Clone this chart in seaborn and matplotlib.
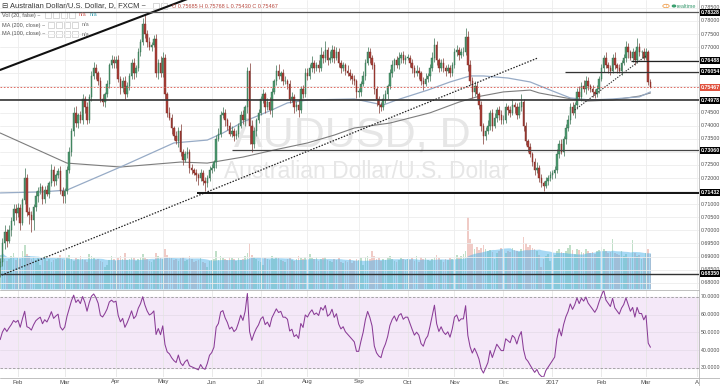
import numpy as np
import pandas as pd
import matplotlib
matplotlib.use("Agg")
import matplotlib.pyplot as plt
import seaborn as sns
from matplotlib.patches import Rectangle, Circle

sns.set_style("white")
plt.rcParams['font.family'] = ['Liberation Sans', 'DejaVu Sans']

# ---------------- data (AUDUSD daily, pips = price * 1e4) ----------------
first_open = 6860
close_pips = [
    # Jan 2016
    6880, 6950, 6995, 6960, 7000, 7035, 7080, 7065,
    # Feb
    7085, 7030, 7115, 7200, 7070, 7060, 7040, 7090, 7130, 7150, 7165, 7120, 7155, 7140, 7180, 7230, 7190, 7210, 7225, 7150, 7130,
    # Mar
    7150, 7230, 7300, 7380, 7450, 7410, 7440, 7420, 7500, 7470, 7420, 7510, 7590, 7620, 7600, 7570, 7500, 7490, 7520, 7560, 7630, 7650, 7640,
    # Apr
    7650, 7580, 7545, 7570, 7520, 7550, 7590, 7640, 7600, 7620, 7680, 7720, 7790, 7750, 7720, 7700, 7710, 7730, 7600, 7640, 7600,
    # May
    7660, 7520, 7450, 7430, 7390, 7360, 7340, 7380, 7300, 7270, 7290, 7300, 7240, 7230, 7220, 7210, 7200, 7220, 7190, 7180, 7200, 7230,
    # Jun
    7240, 7260, 7350, 7370, 7440, 7450, 7420, 7400, 7370, 7380, 7360, 7370, 7400, 7440, 7420, 7470, 7610, 7400, 7330, 7380, 7420, 7450,
    # Jul
    7500, 7520, 7470, 7490, 7460, 7530, 7570, 7610, 7590, 7600, 7570, 7570, 7560, 7500, 7510, 7470, 7480, 7460, 7540, 7520, 7600,
    # Aug
    7590, 7620, 7640, 7620, 7630, 7620, 7670, 7660, 7690, 7650, 7660, 7690, 7660, 7680, 7640, 7620, 7630, 7610, 7600, 7590, 7580, 7570, 7530,
    # Sep
    7530, 7560, 7590, 7640, 7680, 7660, 7630, 7540, 7500, 7480, 7470, 7500, 7520, 7550, 7600, 7630, 7650, 7630, 7660, 7670, 7650, 7660,
    # Oct
    7660, 7640, 7620, 7600, 7610, 7600, 7570, 7560, 7580, 7590, 7620, 7660, 7710, 7650, 7620, 7640, 7620, 7610, 7620, 7600, 7630,
    # Nov
    7680, 7690, 7670, 7680, 7680, 7740, 7630, 7570, 7530, 7550, 7520, 7480, 7400, 7360, 7380, 7400, 7450, 7400, 7430, 7460, 7440, 7420,
    # Dec
    7420, 7470, 7460, 7450, 7480, 7470, 7440, 7470, 7490, 7400, 7340, 7320, 7290, 7260, 7230, 7240, 7200, 7180, 7170, 7190, 7200, 7210,
    # Jan 2017
    7220, 7230, 7290, 7330, 7300, 7350, 7390, 7420, 7470, 7450, 7480, 7530, 7510, 7550, 7540, 7570, 7550, 7540, 7530, 7520, 7540, 7580,
    # Feb 2017
    7620, 7660, 7630, 7620, 7610, 7660, 7630, 7620, 7610, 7640, 7660, 7700, 7680, 7660, 7680, 7650, 7700, 7680, 7680, 7660,
    # Mar 2017
    7680, 7568.5, 7546.7,
]
wick_up = [
    15, 20, 25, 10, 20, 15, 20, 20,
    20, 15, 10, 40, 15, 20, 15, 10, 20, 15, 15, 10, 15, 20, 10, 25, 15, 10, 15, 20, 15,
    10, 15, 20, 10, 20, 25, 10, 15, 20, 15, 20, 10, 20, 25, 15, 10, 15, 20, 10, 15, 10, 20, 15,
    15, 20, 10, 15, 20, 15, 10, 15, 20, 10, 15, 10, 20, 33, 15, 20, 10, 15, 20, 15, 25,
    20, 15, 10, 20, 15, 10, 20, 15, 25, 10, 15, 20, 10, 15, 10, 15, 10, 15, 10, 15, 10, 15,
    15, 10, 15, 20, 15, 20, 15, 10, 15, 20, 10, 15, 10, 15, 20, 10, 15, 30, 20, 15, 10, 15,
    15, 20, 10, 15, 20, 15, 10, 20, 25, 10, 15, 20, 10, 15, 20, 10, 15, 20, 10, 15, 20,
    20, 15, 25, 10, 15, 20, 30, 15, 35, 10, 25, 20, 15, 20, 15, 10, 15, 10, 20, 15, 10, 15, 10,
    15, 10, 20, 15, 20, 15, 10, 15, 10, 15, 10, 20, 15, 10, 15, 20, 10, 15, 20, 10, 15, 10,
    15, 10, 15, 10, 20, 15, 10, 15, 20, 10, 15, 20, 25, 15, 10, 15, 20, 10, 15, 10, 15,
    15, 20, 10, 15, 20, 33, 20, 20, 15, 20, 15, 10, 15, 10, 15, 20, 10, 15, 20, 10, 15, 20,
    20, 15, 10, 15, 20, 10, 15, 20, 30, 10, 15, 10, 15, 10, 15, 20, 10, 15, 10, 15, 10, 15,
    10, 15, 20, 15, 20, 10, 15, 20, 15, 20, 10, 15, 20, 15, 25, 20, 15, 10, 15, 10, 15, 10,
    15, 10, 20, 15, 10, 15, 20, 10, 15, 10, 15, 25, 15, 10, 15, 10, 35, 15, 10, 15,
    15, 10, 8.3,
]
wick_dn = [
    40, 15, 20, 25, 10, 20, 15, 25,
    15, 30, 10, 15, 15, 35, 45, 40, 15, 20, 10, 20, 15, 10, 15, 10, 20, 15, 10, 10, 25,
    25, 10, 10, 15, 20, 15, 20, 10, 15, 20, 15, 10, 15, 10, 20, 15, 10, 15, 20, 10, 15, 10, 20,
    20, 15, 25, 15, 20, 10, 15, 10, 20, 15, 10, 15, 10, 15, 20, 10, 15, 10, 15, 20, 15,
    15, 20, 15, 10, 20, 15, 10, 20, 15, 20, 10, 15, 20, 15, 10, 20, 25, 10, 15, 30, 15, 10,
    10, 15, 20, 10, 15, 10, 20, 15, 10, 15, 20, 10, 15, 10, 15, 20, 20, 70, 30, 15, 20, 10,
    10, 15, 20, 10, 15, 25, 10, 15, 10, 20, 15, 10, 20, 15, 10, 20, 15, 25, 10, 15, 10,
    15, 10, 15, 20, 10, 15, 10, 20, 15, 20, 10, 15, 20, 10, 15, 20, 10, 15, 10, 15, 20, 15, 25,
    20, 15, 10, 15, 10, 20, 15, 20, 25, 30, 15, 10, 15, 20, 10, 15, 20, 10, 15, 20, 10, 15,
    10, 15, 20, 15, 10, 20, 15, 25, 10, 15, 20, 10, 15, 20, 15, 10, 15, 20, 10, 15, 10,
    10, 15, 20, 10, 15, 10, 20, 15, 25, 15, 20, 15, 20, 30, 15, 10, 15, 20, 10, 15, 20, 15,
    15, 10, 20, 15, 10, 20, 15, 10, 15, 20, 15, 20, 10, 15, 20, 10, 15, 15, 20, 10, 15, 10,
    15, 20, 10, 15, 10, 15, 20, 10, 15, 10, 20, 15, 10, 15, 10, 20, 15, 10, 20, 15, 10, 15,
    10, 15, 10, 20, 15, 10, 15, 20, 10, 15, 10, 15, 20, 10, 15, 20, 10, 15, 20, 10,
    10, 15, 3.7,
]
volume = [
    34, 38, 30, 28, 30, 33, 36, 29,
    31, 30, 38, 44, 35, 33, 30, 32, 29, 31, 24, 30, 33, 28, 30, 27, 29, 30, 31, 34, 30,
    29, 32, 34, 30, 28, 31, 30, 33, 30, 29, 27, 35, 33, 31, 29, 30, 28, 27, 22, 24, 29, 33, 30,
    28, 31, 33, 30, 36, 29, 30, 32, 31, 28, 30, 32, 35, 31, 30, 28, 27, 29, 36, 33, 31,
    30, 40, 34, 32, 31, 29, 30, 28, 31, 32, 28, 29, 33, 30, 27, 28, 29, 31, 27, 26, 22, 28,
    29, 30, 38, 29, 33, 31, 30, 29, 32, 31, 30, 28, 31, 29, 30, 33, 36, 46, 34, 32, 30, 28,
    27, 24, 31, 30, 29, 33, 30, 32, 31, 29, 28, 27, 30, 31, 29, 28, 30, 33, 31, 30, 32,
    29, 35, 31, 30, 32, 28, 30, 31, 32, 29, 28, 27, 30, 29, 31, 27, 26, 28, 27, 30, 26, 28, 30,
    29, 31, 24, 32, 33, 30, 38, 33, 30, 31, 28, 30, 29, 31, 33, 30, 28, 27, 29, 31, 30, 29,
    30, 29, 31, 28, 33, 27, 32, 30, 31, 29, 28, 30, 32, 34, 31, 29, 27, 30, 29, 31, 30,
    32, 34, 31, 33, 35, 38, 72, 50, 45, 40, 42, 39, 41, 44, 40, 38, 39, 37, 30, 36, 38, 41,
    40, 36, 38, 37, 41, 39, 38, 37, 40, 52, 46, 42, 44, 41, 40, 38, 34, 22, 30, 33, 35, 28,
    20, 34, 38, 40, 37, 36, 38, 41, 44, 39, 35, 40, 39, 37, 36, 40, 38, 36, 37, 35, 38, 39,
    42, 40, 38, 36, 37, 50, 36, 35, 34, 38, 33, 35, 32, 31, 49, 36, 33, 34, 30, 32,
    36, 40, 35,
]
# moving averages (bar index, price)
ma200_idx = [0, 30, 54, 81, 93, 109, 123, 138, 150, 159, 175, 193, 206, 214, 226, 238, 242, 254, 263, 275, 287, 292]
ma200 = [0.7372, 0.7257, 0.7242, 0.7261, 0.7257, 0.7280, 0.7307, 0.7334, 0.7364, 0.7391, 0.7410, 0.7449,
         0.7490, 0.7510, 0.7529, 0.7536, 0.7525, 0.7506, 0.7494, 0.7498, 0.7513, 0.7525]
ma100_idx = [0, 19, 30, 54, 78, 93, 100, 109, 122, 129, 138, 159, 172, 178, 192, 202, 211, 217, 228, 238,
             247, 256, 265, 275, 287, 292]
ma100 = [0.7143, 0.7147, 0.7154, 0.7242, 0.7334, 0.7345, 0.7372, 0.7414, 0.7460, 0.7487, 0.7498, 0.7502,
         0.7479, 0.7498, 0.7536, 0.7567, 0.7590, 0.7590, 0.7582, 0.7567, 0.7536, 0.7506, 0.7498, 0.7502,
         0.7510, 0.7529]
# drawn levels (price, start bar or None for full width)
levels = [(0.78328, None), (0.76488, 283.3), (0.76054, 253.6), (0.74978, None),
          (0.73060, 104.0), (0.71432, 88.4), (0.68350, None)]
last_price = 0.75467
tick_prices = [0.785, 0.780, 0.775, 0.770, 0.745, 0.740, 0.735, 0.725, 0.720,
               0.710, 0.705, 0.700, 0.695, 0.690, 0.685, 0.680]
rsi_ticks = [70, 60, 50, 40, 30]

# ---------------- derived ----------------
close = np.array(close_pips, dtype=float) / 1e4
open_ = np.r_[first_open, close_pips[:-1]].astype(float) / 1e4
high = np.maximum(open_, close) + np.array(wick_up) / 1e4
low = np.minimum(open_, close) - np.array(wick_dn) / 1e4
n = len(close)
idx = np.arange(n)
up = close >= open_

ext_dates = pd.bdate_range("2016-01-20", "2017-04-10")
months = pd.Series(ext_dates).dt.to_period("M")
first_of_month = [i for i in range(1, len(ext_dates)) if months[i] != months[i - 1]]
month_labels = []
for i in first_of_month:
    d = ext_dates[i]
    if d.month == 1:
        month_labels.append(str(d.year))
    elif d.year == 2017 and d.month == 4:
        month_labels.append("A")
    else:
        month_labels.append(d.strftime("%b"))

# RSI(14), Wilder smoothing
delta = np.diff(close)
ag, al = 0.0035, 0.0040
rsi = [46.0]
for dlt in delta:
    ag = (ag * 13 + max(dlt, 0)) / 14
    al = (al * 13 + max(-dlt, 0)) / 14
    rsi.append(100 - 100 / (1 + ag / al))
rsi = np.array(rsi)
vol_ma = pd.Series(volume, dtype=float).rolling(20, min_periods=1).mean().values

# ---------------- figure ----------------
W, H = 720, 386
fig = plt.figure(figsize=(7.2, 3.86), dpi=100)
fig.patch.set_facecolor("white")
PR = 699  # right edge of plotting area (px)
ax = fig.add_axes([0, (H - 289) / H, PR / W, 289 / H])
vax = ax.twinx()
RB = 377  # bottom of RSI pane (px)
rax = fig.add_axes([0, (H - RB) / H, PR / W, (RB - 290) / H])

XMIN, XMAX = -0.08, 313.8
YMIN, YMAX = 0.67759, 0.78802

# volume pane (behind)
vax.set_ylim(0, 289)
vcol = np.where(up, "#b9dcc2", "#efc6c0")
vax.bar(idx, volume, width=0.75, color=vcol, alpha=0.9, linewidth=0, zorder=1)
vax.fill_between(idx, 0, vol_ma, color="#4fb3ea", alpha=0.5, linewidth=0, zorder=2)
vax.set_yticks([])
for s in vax.spines.values():
    s.set_visible(False)
ax.set_zorder(vax.get_zorder() + 1)
ax.patch.set_visible(False)

# grid
for p in np.arange(0.680, 0.7851, 0.005):
    ax.axhline(p, color="#ededed", lw=0.6, zorder=0)
for i in first_of_month:
    ax.axvline(i, color="#ededed", lw=0.6, zorder=0)
    rax.axvline(i, color="#e6e6e6", lw=0.6, zorder=1)

# watermark
ax.text(352 / W, 1 - 147 / H, "AUDUSD, D", transform=fig.transFigure, ha="center", va="baseline",
        fontsize=31, color="#e6e6e6", zorder=0.5)
ax.text(366 / W, 1 - 178 / H, "Australian Dollar/U.S. Dollar", transform=fig.transFigure, ha="center",
        va="baseline", fontsize=16.5, color="#e6e6e6", zorder=0.5)

# moving averages
sns.lineplot(x=ma200_idx, y=ma200, ax=ax, color="#7d7d7d", lw=0.8, zorder=3)
sns.lineplot(x=ma100_idx, y=ma100, ax=ax, color="#97abc6", lw=0.9, zorder=3)

# candles
wick_c = np.where(up, "#4d7d62", "#8a4a44")
ax.vlines(idx, low, high, colors=wick_c, lw=0.55, zorder=4)
body_c = np.where(up, "#4e9a70", "#aa3f37")
edge_c = np.where(up, "#2f6a4b", "#7a2a24")
ax.bar(idx, np.maximum(np.abs(close - open_), 0.00012), bottom=np.minimum(open_, close), width=0.66,
       color=body_c, edgecolor=edge_c, linewidth=0.3, zorder=5)

# drawings
ax.plot([0, 90], [0.7613, 0.79032], color="#111111", lw=1.5, zorder=6)
ax.plot([0.7, 241.5], [0.6829, 0.7659], color="#222222", lw=0.9, ls=(0, (1.2, 1.2)), zorder=6)
ax.plot([258.0, 290.5], [0.7460, 0.7670], color="#333333", lw=0.8, ls=(0, (1.2, 1.2)), zorder=6)
lvl_style = {0.78328: ("#555555", 0.9), 0.76488: ("#222222", 0.9), 0.76054: ("#333333", 0.9),
             0.74978: ("#333333", 1.2), 0.73060: ("#444444", 0.9), 0.71432: ("#111111", 1.4),
             0.68350: ("#333333", 1.0)}
for price, start in levels:
    c, lw = lvl_style[price]
    ax.hlines(price, XMIN if start is None else start, XMAX, color=c, lw=lw, zorder=6)
ax.axhline(last_price, color="#d9554a", lw=0.6, ls=(0, (2, 2)), zorder=6)

ax.set_xlim(XMIN, XMAX)
ax.set_ylim(YMIN, YMAX)
vax.set_xlim(XMIN, XMAX)
ax.set_xticks([])
ax.set_yticks([])
for s in ax.spines.values():
    s.set_visible(False)

# right price scale
LX = 1.0025
FS = 3.8
ytr = ax.get_yaxis_transform()
for p in tick_prices:
    ax.text(LX, p, f"{p:.5f}", transform=ytr, fontsize=FS, color="#4a4a4a", va="center",
            ha="left", clip_on=False)
for price, _ in levels:
    ax.text(LX, price, f"{price:.5f}", transform=ytr, fontsize=FS, color="white",
            fontweight="bold", va="center", ha="left", clip_on=False,
            bbox=dict(boxstyle="square,pad=0.2", fc="black", ec="none"))
ax.text(LX, last_price, f"{last_price:.5f}", transform=ytr, fontsize=FS, color="white",
        fontweight="bold", va="center", ha="left", clip_on=False,
        bbox=dict(boxstyle="square,pad=0.2", fc="#e0523f", ec="none"))

# RSI pane (70 at y=297px, 30 at y=368px)
rax.set_xlim(XMIN, XMAX)
rax.set_ylim(30 - (RB - 368) / 1.775, 73.94)
rax.axhspan(30, 70, color="#f4e8f8", zorder=0)
for lv in (60, 50, 40):
    rax.axhline(lv, color="#e4dbe8", lw=0.5, zorder=1)
for lv in (70, 30):
    rax.axhline(lv, color="#9a9a9a", lw=0.6, ls=(0, (3, 2)), zorder=2)
sns.lineplot(x=idx, y=rsi, ax=rax, color="#8a3c97", lw=0.75, zorder=3)
rax.set_xticks([])
rax.set_yticks([])
rax.set_ylabel("")
for s in rax.spines.values():
    s.set_visible(False)
rtr = rax.get_yaxis_transform()
for v in rsi_ticks:
    rax.text(LX, v, f"{v:.4f}", transform=rtr, fontsize=FS, color="#4a4a4a", va="center",
             ha="left", clip_on=False)
ax.set_ylabel("")

# time axis labels
for i, lab in zip(first_of_month, month_labels):
    if i <= XMAX:
        fig.text((i - XMIN) / (XMAX - XMIN) * PR / W, 1 - 382 / H, lab, fontsize=4.3,
                 color="#4a4a4a", ha="center", va="center")

# separators
fig.add_artist(plt.Line2D([PR / W, PR / W], [0, 1], color="#b5b5b5", lw=0.6))
fig.add_artist(plt.Line2D([0, PR / W], [1 - 289.5 / H, 1 - 289.5 / H], color="#b5b5b5", lw=0.6))
fig.add_artist(plt.Line2D([0, 1], [1 - (RB + 0.5) / H, 1 - (RB + 0.5) / H], color="#b5b5b5", lw=0.6))

# header legend
def fx(px):
    return px / W

def fy(py):
    return 1 - py / H

fig.text(fx(2), fy(6), "⊟ Australian Dollar/U.S. Dollar, D, FXCM ~", fontsize=5.4, color="#333333",
         va="center", ha="left")
fig.text(fx(172), fy(6), "O 0.75685 H 0.75768 L 0.75430 C 0.75467", fontsize=4.0, color="#b84a40",
         va="center", ha="left")
rows = [(15, "Vol (20, false) ~", 45), (25, "MA (200, close) ~", 48), (34, "MA (100, close) ~", 48)]
for y, lab, ix in rows:
    fig.text(fx(2), fy(y), lab, fontsize=4.0, color="#555555", va="center", ha="left")
    for k in range(4):
        fig.add_artist(Rectangle((fx(ix + k * 8), fy(y + 3)), 6 / W, 6 / H, fill=False,
                                 ec="#c8c8c8", lw=0.5, transform=fig.transFigure))
for k in range(2):
    fig.add_artist(Rectangle((fx(153 + k * 8), fy(9)), 6 / W, 6 / H, fill=False, ec="#c8c8c8",
                             lw=0.5, transform=fig.transFigure))
fig.text(fx(79), fy(15), "n/a", fontsize=4.0, color="#d0605a", va="center", ha="left")
fig.text(fx(90), fy(15), "n/a", fontsize=4.0, color="#3aa0b0", va="center", ha="left")
fig.text(fx(82), fy(25), "n/a", fontsize=4.0, color="#777777", va="center", ha="left")
fig.text(fx(82), fy(34), "n/a", fontsize=4.0, color="#777777", va="center", ha="left")
# realtime badge
fig.add_artist(Circle((fx(666), fy(6)), 3.2 / W, transform=fig.transFigure, fill=False,
                      ec="#f0a050", lw=0.6))
fig.text(fx(666), fy(6), "!", fontsize=3.5, color="#f0a050", va="center", ha="center")
fig.add_artist(Circle((fx(674), fy(6)), 1.6 / W, transform=fig.transFigure, color="#3aa070"))
fig.text(fx(677), fy(6), "realtime", fontsize=4.0, color="#3a9a70", va="center", ha="left")

fig.savefig("out.png", dpi=100, facecolor="white")
